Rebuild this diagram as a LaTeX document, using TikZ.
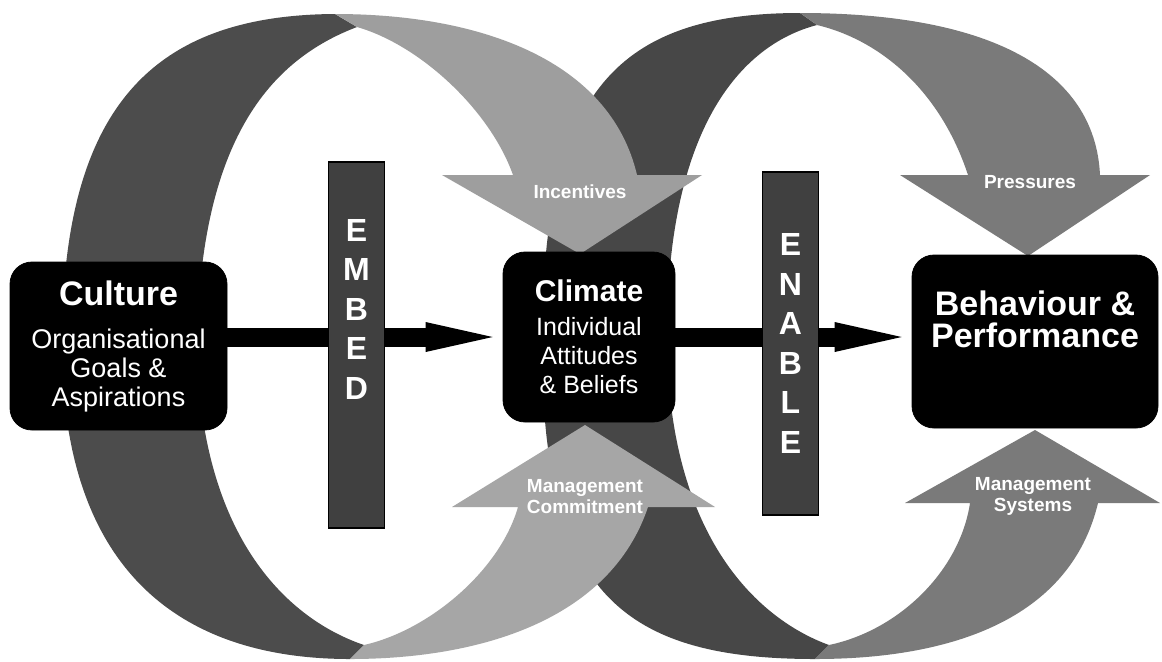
\documentclass[tikz,border=0pt]{standalone}
\usepackage{fontspec}
\setmainfont{Liberation Sans}
\usetikzlibrary{positioning,arrows.meta}
\tikzset{
box/.style={
draw=black,
fill=black,
rounded corners=11pt,
text=white,
align=center,
inner sep=0pt
},
bar/.style={
draw=black,
line width=0.6pt,
fill=black!75,
minimum width=28pt,
text=white,
align=center,
inner sep=0pt,
font=\bfseries\fontsize{16}{19.75}\selectfont
},
arrow/.style={
line width=9.5pt,
-{Triangle[length=33.5pt,width=15pt,line width=0pt]},
shorten >=5pt
},
tag/.style={
text=white,
align=center,
font=\bfseries\fontsize{9.5}{10.5}\selectfont
}
}

\begin{document}
\begin{tikzpicture}[x=0.5pt,y=-0.5pt]

\fill[white](0,0)rectangle(1162,661);

% right loop
\fill[black!72](542,345)..controls(542,100)and(610,13)..(800,13)--(817,25)..controls(740,45)and(665,130)..(667,345)--cycle;
\fill[black!52](817,25)..controls(880,40)and(940,90)..(968,175)--(900,175)--(1028,256)--(1150,175)--(1100,175)..controls(1095,70)and(990,13)..(800,13)--cycle;
\fill[black!72](542,345)..controls(542,590)and(620,659)..(815,659)--(829,645)..controls(760,620)and(670,540)..(667,345)--cycle;
\fill[black!52](829,645)..controls(900,630)and(960,570)..(970,503)--(905,503)--(1035,430)--(1160,503)--(1098,503)..controls(1070,620)and(950,659)..(815,659)--cycle;

% left loop
\fill[black!70](62,345)..controls(62,110)and(150,15)..(335,14)--(357,27)..controls(270,60)and(200,140)..(197,345)--cycle;
\fill[black!70](62,345)..controls(62,560)and(170,659)..(350,659)--(364,645)..controls(290,620)and(200,540)..(197,345)--cycle;
\fill[black!38](357,27)..controls(420,45)and(490,110)..(513,175)--(442,175)--(580,254)--(702,175)--(637,175)..controls(610,60)and(480,14)..(335,14)--cycle;
\fill[black!35](364,645)..controls(430,630)and(500,570)..(518,507)--(452,507)--(585,425)--(715,507)--(648,507)..controls(610,620)and(480,659)..(350,659)--cycle;

\node[box,minimum width=108.5pt,minimum height=84pt,font=\fontsize{13.5}{14.5}\selectfont](cul)at(118.5,346){{\bfseries\fontsize{17}{18}\selectfont Culture}\\[7pt]Organisational\\Goals \&\\Aspirations};
\node[box,minimum width=86pt,minimum height=85pt,font=\fontsize{12.5}{14.5}\selectfont](cli)at(589,337){{\bfseries\fontsize{15}{17}\selectfont Climate}\\[2.5pt]Individual\\Attitudes\\\& Beliefs};
\node[box,minimum width=123pt,minimum height=86.5pt,font=\bfseries\fontsize{17}{16}\selectfont](beh)at(1035,341.5){Behaviour \&\\Performance\\[6.5pt]\mbox{}};

\foreach \x/\y in {cul/cli,cli/beh}
\draw[arrow](\x.east |- cli.center)--(\y.west |- cli.center);

\node[bar,minimum height=183pt](emb)at(356.5,345){E\\M\\B\\E\\D\\[16pt]\mbox{}};
\node[bar,minimum height=171.5pt](ena)at(790.5,343.5){E\\N\\A\\B\\L\\E};

\node[tag](inc)at(580,192){Incentives};
\node[tag](pre)at(1030,182){Pressures};
\node[tag](mco)at(585,497){Management\\Commitment};
\node[tag](msy)at(1033,496){Management\\Systems};

\end{tikzpicture}
\end{document}
